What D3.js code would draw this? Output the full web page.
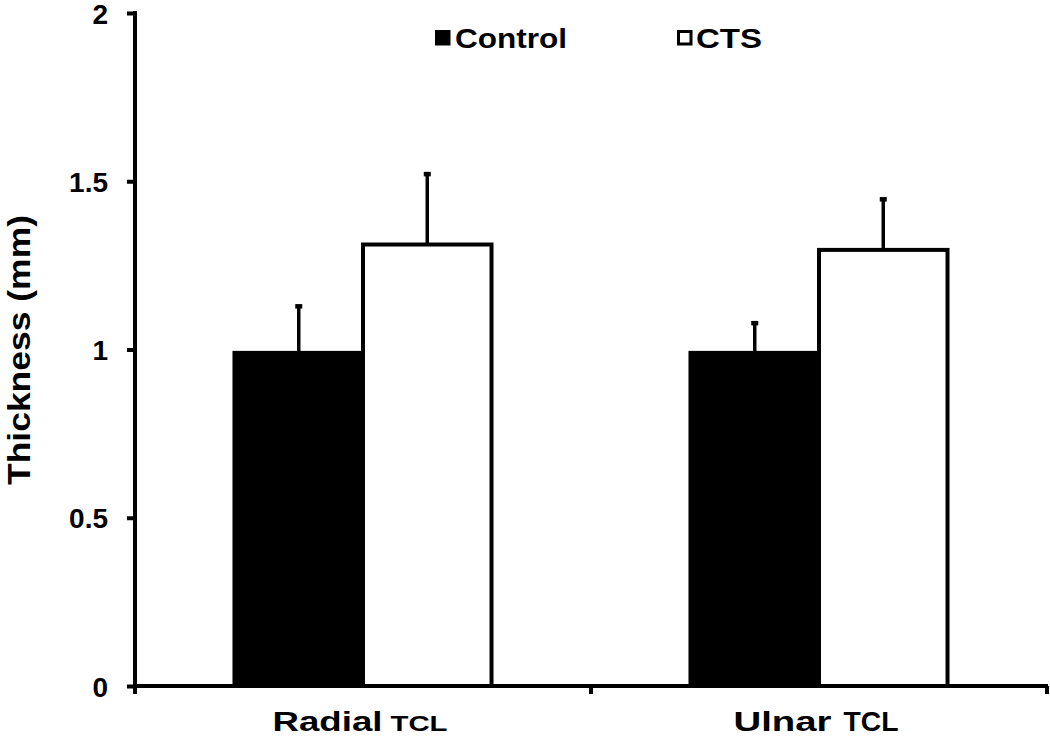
<!DOCTYPE html>
<html>
<head>
<meta charset="utf-8">
<script src="https://cdn.jsdelivr.net/npm/d3@7"></script>
<style>
  html, body { margin: 0; padding: 0; background: #fff; }
  svg { display: block; }
  text { font-family: "Liberation Sans", Arial, Helvetica, sans-serif; font-weight: bold; fill: #000; }
</style>
</head>
<body>
<svg id="chart" width="1050" height="736"></svg>
<script>
// ---- data ----
const categories = ["Radial", "Ulnar"];
const categorySuffix = ["TCL", "TCL"];
const seriesNames = ["Control", "CTS"];
const controlValues = [0.99, 0.99];
const ctsValues = [1.312, 1.296];
const controlErrTop = [1.132, 1.082];
const ctsErrTop = [1.525, 1.45];
const yTicks = [0, 0.5, 1, 1.5, 2];
const yTickLabels = ["0", "0.5", "1", "1.5", "2"];
const yTitle = "Thickness (mm)";

const svg = d3.select("#chart");
const mLeft = 135, mRight = 1047, mTop = 13, mBottom = 686;

const y = d3.scaleLinear().domain([0, 2]).range([mBottom, mTop]);
const x = d3.scaleBand().domain(categories).range([mLeft, mRight]).padding(0);
const xs = d3.scaleBand().domain(seriesNames).range([0, x.bandwidth()]).paddingInner(0).paddingOuter(0.774);

const series = [
  { name: "Control", values: controlValues, err: controlErrTop, fill: "#000" },
  { name: "CTS", values: ctsValues, err: ctsErrTop, fill: "#fff" }
];

// bars
series.forEach(s => {
  const g = svg.append("g");
  g.selectAll("rect.bar").data(categories).join("rect")
    .attr("class", "bar")
    .attr("x", (c) => x(c) + xs(s.name))
    .attr("width", xs.bandwidth())
    .attr("y", (c, i) => y(s.values[i]))
    .attr("height", (c, i) => y(0) - y(s.values[i]))
    .attr("fill", s.fill)
    .attr("stroke", "#000")
    .attr("stroke-width", 4);
  g.selectAll("line.err").data(categories).join("line")
    .attr("class", "err")
    .attr("x1", c => x(c) + xs(s.name) + xs.bandwidth() / 2)
    .attr("x2", c => x(c) + xs(s.name) + xs.bandwidth() / 2)
    .attr("y1", (c, i) => y(s.values[i]))
    .attr("y2", (c, i) => y(s.err[i]))
    .attr("stroke", "#000").attr("stroke-width", 3.5);
  g.selectAll("rect.cap").data(categories).join("rect")
    .attr("class", "cap")
    .attr("x", c => x(c) + xs(s.name) + xs.bandwidth() / 2 - 3.5)
    .attr("width", 7)
    .attr("y", (c, i) => y(s.err[i]) - 1)
    .attr("height", 4.5)
    .attr("fill", "#000");
});

// y axis
const yAxis = d3.axisLeft(y).tickValues(yTicks)
  .tickFormat((d, i) => yTickLabels[i]).tickSize(8).tickSizeOuter(0).tickPadding(19);
const yg = svg.append("g").attr("transform", `translate(${mLeft},0)`).call(yAxis);
yg.select(".domain").attr("stroke", "#000").attr("stroke-width", 4)
  .attr("d", `M0,${mTop - 2}V${mBottom + 2}`);
yg.selectAll(".tick line").attr("stroke", "#000").attr("stroke-width", 4);
yg.selectAll(".tick text").attr("font-size", 28).attr("font-weight", "bold")
  .attr("font-family", "Liberation Sans, Arial, sans-serif").attr("dy", "0.36em");

// x axis
const xg = svg.append("g");
xg.append("line").attr("x1", mLeft - 2).attr("x2", mRight + 1).attr("y1", mBottom).attr("y2", mBottom)
  .attr("stroke", "#000").attr("stroke-width", 4);
const xEdges = [x(categories[0])].concat(categories.map(c => x(c) + x.bandwidth()));
xg.selectAll("line.tick").data(xEdges).join("line").attr("class", "tick")
  .attr("x1", d => d).attr("x2", d => d).attr("y1", mBottom).attr("y2", mBottom + 8)
  .attr("stroke", "#000").attr("stroke-width", 4);

// category labels
const labelSpecs = [
  { main: 110, mainSize: 27, suf: 57, sufSize: 22, gap: 8 },
  { main: 98, mainSize: 28, suf: 55, sufSize: 28, gap: 12 }
];
categories.forEach((c, i) => {
  const sp = labelSpecs[i];
  const total = sp.main + sp.gap + sp.suf;
  const cx = x(c) + x.bandwidth() / 2 - 3;
  const x0 = cx - total / 2;
  svg.append("text").attr("x", x0).attr("y", 731).attr("font-size", sp.mainSize)
    .attr("textLength", sp.main).attr("lengthAdjust", "spacingAndGlyphs").text(c);
  svg.append("text").attr("x", x0 + sp.main + sp.gap).attr("y", 731).attr("font-size", sp.sufSize)
    .attr("textLength", sp.suf).attr("lengthAdjust", "spacingAndGlyphs").text(categorySuffix[i]);
});

// y title
svg.append("text")
  .attr("transform", `translate(30,${(215 + 485) / 2}) rotate(-90)`)
  .attr("text-anchor", "middle").attr("font-size", 31)
  .attr("textLength", 270).attr("lengthAdjust", "spacingAndGlyphs")
  .text(yTitle);

// legend
const legend = [
  { name: seriesNames[0], sq: 435, tx: 455, w: 112, fill: "#000" },
  { name: seriesNames[1], sq: 677, tx: 696, w: 66, fill: "#fff" }
];
legend.forEach(l => {
  svg.append("rect").attr("x", l.sq + 1.5).attr("y", 31.5).attr("width", 12.5).attr("height", 12.5)
    .attr("fill", l.fill).attr("stroke", "#000").attr("stroke-width", 3);
  svg.append("text").attr("x", l.tx).attr("y", 48).attr("font-size", 27)
    .attr("textLength", l.w).attr("lengthAdjust", "spacingAndGlyphs").text(l.name);
});
</script>
</body>
</html>
